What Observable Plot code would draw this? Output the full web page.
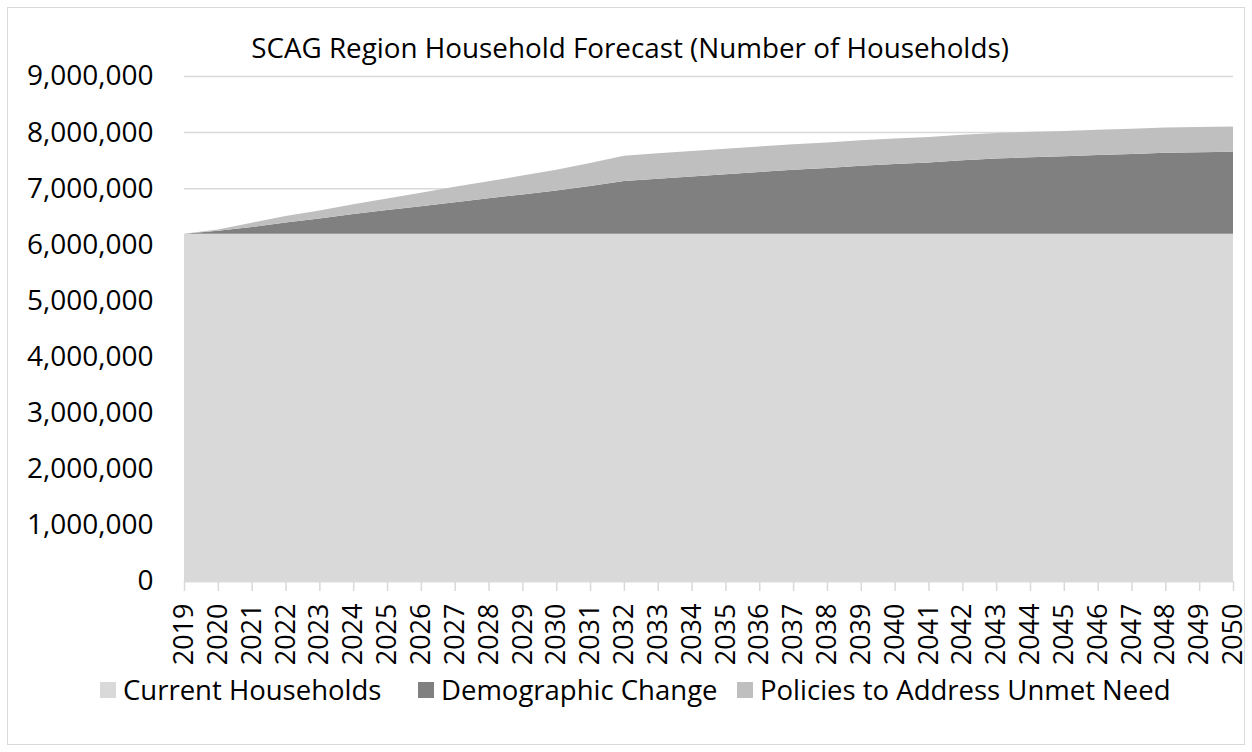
<!DOCTYPE html>
<html><head><meta charset="utf-8">
<script src="https://cdn.jsdelivr.net/npm/d3@7"></script>
<script src="https://cdn.jsdelivr.net/npm/@observablehq/plot@0.6"></script>
<style>
html,body{margin:0;padding:0;background:#fff;}
#wrap{position:relative;width:1252px;height:752px;font-family:"Open Sans",sans-serif;overflow:hidden;background:#fff;}
#frame{position:absolute;left:7px;top:7px;width:1238px;height:738px;border:1.5px solid #d9d9d9;box-sizing:border-box;}
#title{position:absolute;left:0;width:1260px;top:31px;text-align:center;font-size:27.8px;line-height:32px;color:#000;white-space:nowrap;}
#chart{position:absolute;left:0;top:0;}
#legend{position:absolute;left:0;top:0;width:1252px;height:752px;font-size:27.5px;color:#000;pointer-events:none;}
.item{position:absolute;top:672px;height:36px;display:flex;align-items:center;gap:7px;white-space:nowrap;line-height:36px;}
.sw{width:16px;height:16px;display:inline-block;}
</style></head>
<body>
<div id="wrap">
  <div id="frame"></div>
  <div id="chart"></div>
  <div id="title">SCAG Region Household Forecast (Number of Households)</div>
  <div id="legend"></div>
</div>
<script>
const years = [2019,2020,2021,2022,2023,2024,2025,2026,2027,2028,2029,2030,2031,2032,2033,2034,2035,2036,2037,2038,2039,2040,2041,2042,2043,2044,2045,2046,2047,2048,2049,2050];
const seriesNames = ["Current Households","Demographic Change","Policies to Address Unmet Need"];
const seriesColors = ["#d9d9d9","#808080","#bfbfbf"];
const currentHouseholds = [6190000,6190000,6190000,6190000,6190000,6190000,6190000,6190000,6190000,6190000,6190000,6190000,6190000,6190000,6190000,6190000,6190000,6190000,6190000,6190000,6190000,6190000,6190000,6190000,6190000,6190000,6190000,6190000,6190000,6190000,6190000,6190000];
const demographicChange = [0,50000,120000,200000,270000,350000,420000,490000,560000,630000,700000,770000,850000,940000,980000,1020000,1060000,1100000,1140000,1170000,1210000,1240000,1270000,1310000,1340000,1360000,1380000,1400000,1420000,1440000,1450000,1460000];
const policiesUnmetNeed = [0,25000,75000,115000,145000,175000,205000,240000,275000,305000,335000,370000,410000,450000,455000,455000,455000,455000,455000,455000,455000,455000,455000,455000,455000,455000,450000,450000,450000,450000,450000,450000];
const yTicks = [0,1000000,2000000,3000000,4000000,5000000,6000000,7000000,8000000,9000000];
const legendLeft = [100,418,737];

const seriesValues = [currentHouseholds, demographicChange, policiesUnmetNeed];
const data = [];
seriesNames.forEach((s,i)=>years.forEach((y,j)=>data.push({year:y, series:s, value:seriesValues[i][j]})));

const chart = Plot.plot({
  width:1252, height:752,
  marginLeft:184, marginRight:19, marginTop:76, marginBottom:171,
  style:{fontFamily:"'Open Sans', sans-serif", fontSize:"27px", color:"#000", background:"transparent", overflow:"visible"},
  x:{type:"linear", domain:[2019,2050], label:null},
  y:{domain:[0,9000000], label:null},
  color:{domain:seriesNames, range:seriesColors},
  marks:[
    Plot.gridY(yTicks, {stroke:"#d9d9d9", strokeOpacity:1, strokeWidth:1.5}),
    Plot.areaY(data, {x:"year", y:"value", z:"series", fill:"series"}),
    Plot.ruleY([0], {stroke:"#d9d9d9", strokeWidth:1.5}),
    Plot.axisY(yTicks, {tickSize:0, tickPadding:31, tickFormat:d3.format(","), fontSize:28, fill:"#000", label:null}),
    Plot.axisX(years, {tickSize:10, tickFormat:()=>"", stroke:"#d9d9d9", strokeWidth:1.5, label:null}),
    Plot.text(years, {x:d=>d, frameAnchor:"bottom", rotate:-90, textAnchor:"end", lineAnchor:"middle", dy:22, text:d=>String(d), fontSize:27, fill:"#000"})
  ]
});
document.getElementById("chart").appendChild(chart);

const legend = document.getElementById("legend");
seriesNames.forEach((s,i)=>{
  const it = document.createElement("div"); it.className="item"; it.style.left = legendLeft[i] + "px";
  const sw = document.createElement("span"); sw.className="sw"; sw.style.background=seriesColors[i];
  const tx = document.createElement("span"); tx.textContent=s;
  it.appendChild(sw); it.appendChild(tx); legend.appendChild(it);
});
</script>
</body></html>
